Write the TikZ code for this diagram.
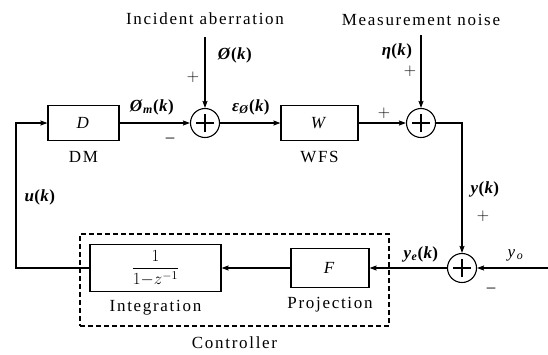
\documentclass[tikz,border=0pt]{standalone}
\usepackage{fix-cm}
\usepackage{amsmath}
\usepackage{fontspec}
\setmainfont{Liberation Serif}[LetterSpace=10]
\newfontfamily\sigfont{Liberation Serif}[LetterSpace=2]
\usepackage{tikz}
\usetikzlibrary{arrows.meta,positioning}
\newcommand{\bv}[1]{{\sigfont\textbf{\textit{#1}}}}
\newcommand{\sbv}[1]{\textsubscript{\bv{#1}}}
\newcommand{\ofk}{{\sigfont\textbf{(}\bv{k}\textbf{)}}}
\tikzset{
  blockbox/.style={draw, line width=1.2pt, inner sep=0pt},
  sumcirc/.style={circle, draw, minimum size=29pt, inner sep=0pt,
    path picture={\draw ([xshift=-9pt]path picture bounding box.center) -- ([xshift=9pt]path picture bounding box.center)
      ([yshift=-9pt]path picture bounding box.center) -- ([yshift=9pt]path picture bounding box.center);}},
  ctrlbox/.style={draw, dashed, dash pattern=on 5pt off 3pt, line width=1.1pt, inner sep=0pt},
}

\begin{document}
\begin{tikzpicture}[x=1pt, y=-1pt, line width=1.1pt, font=\fontsize{17}{20}\selectfont,
  >={Stealth[length=7pt,width=5pt,inset=1pt]}]
  \useasboundingbox (0,0) rectangle (548,354);

  % controller frame
  \node[ctrlbox, minimum width=309pt, minimum height=92pt] (ctrl) at (234.5,280) {};
  \node[below=6pt of ctrl] (ctrlT) {Controller};

  % blocks
  \node[blockbox, minimum width=71pt, minimum height=35pt] (D) at (83.5,123) {\textit{D}};
  \node[below=6pt of D] (dmT) {DM};
  \node[sumcirc] (s1) at (205,123) {};
  \node[blockbox, minimum width=77pt, minimum height=35pt] (W) at (319.5,123) {\textit{W}};
  \node[below=6pt of W] (wfsT) {WFS};
  \node[sumcirc] (s2) at (421,123) {};
  \node[sumcirc] (s3) at (462,268) {};
  \node[blockbox, minimum width=78pt, minimum height=39pt] (F) at (330,268) {\textit{F}};
  \node[below=5pt of F] (projT) {Projection};
  \node[blockbox, minimum width=131pt, minimum height=47pt] (integ) at (155.5,268) {$\dfrac{1}{1{-}z^{-1}}$};
  \node[below=4pt of integ] (integT) {Integration};

  % inputs
  \node (incT) at (205,19) {Incident aberration};
  \node (noiseT) at (421,20) {Measurement noise};
  \coordinate (ain) at (205,37);
  \coordinate (nin) at (421,35);
  \coordinate (yin) at (548,268);
  \coordinate (fb) at (16,268);

  % signals
  \draw[->] (ain) -- (s1.north);
  \draw[->] (nin) -- (s2.north);
  \draw[->] (D.east) -- (s1.west);
  \draw[->] (s1.east) -- (W.west);
  \draw[->] (W.east) -- (s2.west);
  \draw[->] (s2.east) -| (s3.north);
  \draw[->] (yin) -- (s3.east);
  \draw[->] (s3.west) -- (F.east);
  \draw[->] (F.west) -- (integ.east);
  \draw[->] (integ.west) -- (fb) |- (D.west);

  % labels
  \node (phiL) at (235,55) {\bv{Ø}\ofk};
  \node (pA) at (193,77) {$+$};
  \node (phimL) at (152,107) {\bv{Ø}\sbv{m}\ofk};
  \node (mA) at (170,140) {–};
  \node (epsL) at (251,107) {\bv{ε}\sbv{Ø}\ofk};
  \node (pB) at (384,113) {$+$};
  \node (etaL) at (397,51) {\bv{η}\ofk};
  \node (pC) at (410,71) {$+$};
  \node (yL) at (485,189) {\bv{y}\ofk};
  \node (pD) at (483,216) {$+$};
  \node (yeL) at (421,254) {\bv{y}\sbv{e}\ofk};
  \node (yoL) at (516,255) {\textit{y}\textsubscript{\textit{o}}};
  \node (mB) at (491,290) {–};
  \node (uL) at (40,197) {\bv{u}\ofk};
\end{tikzpicture}
\end{document}
